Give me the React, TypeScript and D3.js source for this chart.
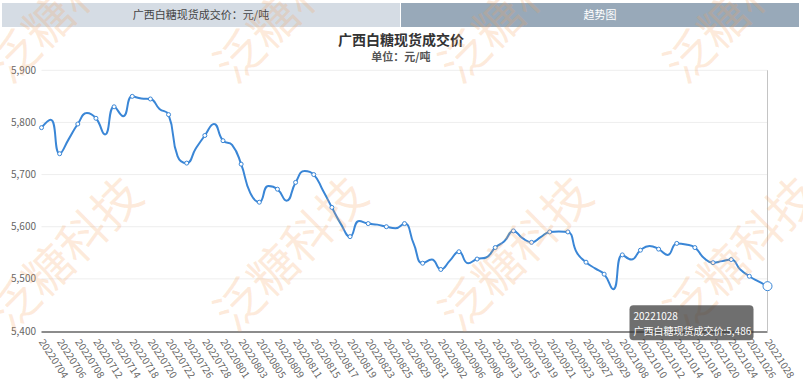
import * as d3 from 'd3';

// ---- data ----
const dates = [
  '20220704', '20220705', '20220706', '20220707', '20220708', '20220711', '20220712', '20220713', '20220714', '20220715',
  '20220718', '20220719', '20220720', '20220721', '20220722', '20220725', '20220726', '20220727', '20220728', '20220729',
  '20220801', '20220802', '20220803', '20220804', '20220805', '20220808', '20220809', '20220810', '20220811', '20220812',
  '20220815', '20220816', '20220817', '20220818', '20220819', '20220822', '20220823', '20220824', '20220825', '20220826',
  '20220829', '20220830', '20220831', '20220901', '20220902', '20220905', '20220906', '20220907', '20220908', '20220909',
  '20220913', '20220914', '20220915', '20220916', '20220919', '20220920', '20220921', '20220922', '20220923', '20220926',
  '20220927', '20220928', '20220929', '20220930', '20221008', '20221009', '20221010', '20221011', '20221012', '20221013',
  '20221014', '20221017', '20221018', '20221019', '20221020', '20221021', '20221024', '20221025', '20221026', '20221027',
  '20221028',
];

const prices = [
  5790, 5805, 5740, 5768, 5797, 5818, 5808, 5777, 5830, 5812,
  5850, 5846, 5845, 5826, 5815, 5735, 5722, 5750, 5775, 5797,
  5765, 5757, 5720, 5665, 5647, 5678, 5672, 5650, 5685, 5707,
  5700, 5670, 5637, 5605, 5581, 5611, 5606, 5604, 5600, 5597,
  5606, 5568, 5530, 5537, 5518, 5535, 5552, 5530, 5538, 5541,
  5560, 5572, 5592, 5578, 5570, 5580, 5590, 5591, 5590, 5550,
  5532, 5520, 5509, 5480, 5546, 5537, 5555, 5563, 5557, 5546,
  5568, 5566, 5560, 5540, 5531, 5534, 5537, 5518, 5505, 5495,
  5486,
];

const yTicks = [5400, 5500, 5600, 5700, 5800, 5900];

const headerLeft = '广西白糖现货成交价：元/吨';
const headerRight = '趋势图';
const title = '广西白糖现货成交价';
const subtitle = '单位：元/吨';
const seriesName = '广西白糖现货成交价';
const watermarkText = '泛糖科技';

// ---- layout ----
const W = 803;
const H = 387;
const plot = { left: 41.5, right: 767.5, top: 70.3, bottom: 331 };
const FONT = '"Microsoft YaHei", "Noto Sans CJK SC", sans-serif';
const LINE = '#3a86d6';

// echarts-like smooth line (smooth = 0.5, control points clamped to neighbours)
function smoothPath(pts: [number, number][], smooth = 0.5) {
  const p = d3.path();
  let cpx0 = 0, cpy0 = 0;
  for (let i = 0; i < pts.length; i++) {
    const [x, y] = pts[i];
    if (i === 0) {
      p.moveTo(x, y);
      cpx0 = x; cpy0 = y;
      continue;
    }
    const [px, py] = pts[i - 1];
    let cpx1 = x, cpy1 = y, ncx = x, ncy = y;
    if (i < pts.length - 1) {
      const [nx, ny] = pts[i + 1];
      let vx = nx - px, vy = ny - py;
      const lp = Math.hypot(x - px, y - py);
      const ln = Math.hypot(nx - x, ny - y);
      const r = ln / (ln + lp);
      ncx = x + vx * smooth * r;
      ncy = y + vy * smooth * r;
      ncx = Math.max(Math.min(ncx, Math.max(nx, x)), Math.min(nx, x));
      ncy = Math.max(Math.min(ncy, Math.max(ny, y)), Math.min(ny, y));
      vx = ncx - x; vy = ncy - y;
      cpx1 = x - vx * lp / ln;
      cpy1 = y - vy * lp / ln;
      cpx1 = Math.max(Math.min(cpx1, Math.max(px, x)), Math.min(px, x));
      cpy1 = Math.max(Math.min(cpy1, Math.max(py, y)), Math.min(py, y));
      vx = x - cpx1; vy = y - cpy1;
      ncx = x + vx * ln / lp;
      ncy = y + vy * ln / lp;
    }
    p.bezierCurveTo(cpx0, cpy0, cpx1, cpy1, x, y);
    cpx0 = ncx; cpy0 = ncy;
  }
  return p.toString();
}

export default function App() {
  const x = d3.scalePoint<number>()
    .domain(d3.range(dates.length))
    .range([plot.left, plot.right]);
  const y = d3.scaleLinear()
    .domain([5400, 5900])
    .range([plot.bottom, plot.top]);

  const pts: [number, number][] = prices.map((v, i) => [x(i) as number, y(v)]);
  const linePath = smoothPath(pts);
  const last = prices.length - 1;
  const lx = x(last) as number;
  const ly = y(prices[last]);
  const fmt = d3.format(',');

  // watermark centres (tiled, rotated -45deg)
  const wmCols = [66, 291, 516, 741];
  const wmRows = [6, 254];

  const tipW = 124;
  const tipH = 35;
  const tipX = lx - 14 - tipW;
  const tipY = ly + 19;

  return (
    <svg
      width={W}
      height={H}
      style={{ position: 'absolute', left: 0, top: 0, fontFamily: FONT, background: '#fff' }}
    >
      {/* header tabs */}
      <rect x={2} y={3} width={398} height={24} fill="#d5dce4" />
      <text x={201} y={15} textAnchor="middle" dy="0.35em" fontSize={11} fill="#444">{headerLeft}</text>
      <rect x={401} y={3} width={398} height={24} fill="#98a9b9" />
      <text x={600} y={15} textAnchor="middle" dy="0.35em" fontSize={11} fill="#fff">{headerRight}</text>

      {/* title */}
      <text x={401} y={40} textAnchor="middle" dy="0.35em" fontSize={14} fontWeight="bold" fill="#333">{title}</text>
      <text x={401} y={57.5} textAnchor="middle" dy="0.35em" fontSize={11} fontWeight="bold" fill="#555">{subtitle}</text>

      {/* grid + y labels */}
      {yTicks.map(t => (
        <g key={t}>
          {t !== 5400 && (
            <line x1={plot.left} x2={plot.right} y1={y(t)} y2={y(t)} stroke="#eeeeee" strokeWidth={1} />
          )}
          <text x={36} y={y(t)} dy="0.35em" textAnchor="end" fontSize={10} fill="#666">{fmt(t)}</text>
        </g>
      ))}

      {/* x axis */}
      <line x1={plot.left} x2={plot.right} y1={plot.bottom + 1} y2={plot.bottom + 1} stroke="#8c8c8c" strokeWidth={2} />
      {dates.map((d, i) => i % 2 === 0 && (
        <text
          key={d}
          transform={`translate(${x(i)},${plot.bottom + 9}) rotate(57)`}
          dy="0.35em"
          fontSize={10}
          fill="#666"
        >{d}</text>
      ))}

      {/* axis pointer */}
      <line x1={lx} x2={lx} y1={plot.top} y2={plot.bottom} stroke="#c4c4c4" strokeWidth={1} />

      {/* series */}
      <path d={linePath} fill="none" stroke={LINE} strokeWidth={2} strokeLinejoin="round" />
      {pts.map(([px, py], i) => i % 2 === 0 && i !== last && (
        <circle key={i} cx={px} cy={py} r={2} fill="#fff" stroke={LINE} strokeWidth={1} />
      ))}
      <circle cx={lx} cy={ly} r={4.5} fill="#fff" stroke={LINE} strokeWidth={1} />

      {/* watermark */}
      <g pointerEvents="none">
        {wmRows.map(ry => wmCols.map(cx => (
          <text
            key={`${cx}-${ry}`}
            transform={`translate(${cx},${ry}) rotate(-45)`}
            textAnchor="middle"
            dy="0.35em"
            fontSize={48}
            fill="#f7a35c"
            fillOpacity={0.22}
          >{watermarkText}</text>
        )))}
      </g>

      {/* tooltip */}
      <g transform={`translate(${tipX},${tipY})`}>
        <rect width={tipW} height={tipH} rx={4} fill="rgba(50,50,50,0.7)" />
        <text x={4} y={11} dy="0.35em" fontSize={10} fill="#fff">{dates[last]}</text>
        <text x={4} y={26} dy="0.35em" fontSize={10} fill="#fff">{`${seriesName}:${fmt(prices[last])}`}</text>
      </g>
    </svg>
  );
}
